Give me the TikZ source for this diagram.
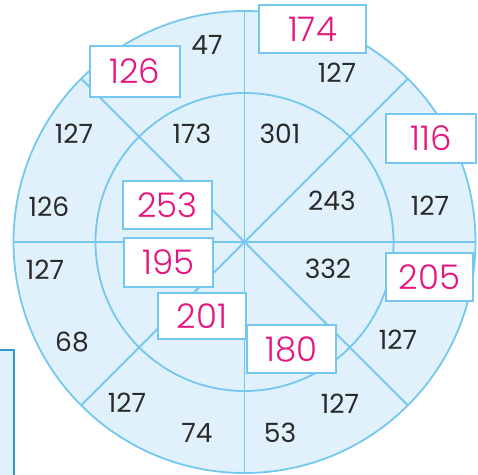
\documentclass[tikz,border=0pt]{standalone}
\usepackage{fontspec}
\setmainfont{Poppins}
\newfontfamily\pinkfont{Poppins Light}
\usetikzlibrary{calc}
\definecolor{fillblue}{HTML}{E1F1FB}
\definecolor{lineblue}{HTML}{74C7EE}
\definecolor{darkblue}{HTML}{2E9BCB}
\definecolor{pinktxt}{HTML}{E5177E}
\definecolor{darktxt}{HTML}{2A2A2A}
\tikzset{
  ring/.style={draw=lineblue, line width=1.8pt},
  ansbox/.style={draw=lineblue, line width=2pt, fill=white, inner sep=0pt, text=pinktxt, font=\pinkfont\fontsize{34}{34}\selectfont},
  numtxt/.style={text=darktxt, font=\fontsize{26.5}{26.5}\selectfont, inner sep=0pt}
}
\begin{document}
\begin{tikzpicture}[x=1pt,y=-1pt]
\path[use as bounding box, clip] (0,0) rectangle (478,474);
\coordinate (c) at (244.5,242);
% partial box lower left
\draw[fill=fillblue, draw=darkblue, line width=2pt] (-10,349.5) rectangle (13.5,490);
% circles
\draw[ring, fill=fillblue] (c) circle (231);
\draw[ring] (c) circle (149);
% dividing lines
\draw[ring] ($(c)+(0,-231)$) -- ($(c)+(0,231)$);
\draw[ring] ($(c)+(-231,0)$) -- ($(c)+(231,0)$);
\draw[ring] ($(c)+(135:231)$) -- ($(c)+(-45:231)$);
\draw[ring] ($(c)+(45:231)$) -- ($(c)+(-135:231)$);
% answer boxes
\node[ansbox, minimum width=90pt, minimum height=51pt] (b126) at (135,71.5) {126};
\node[ansbox, minimum width=107pt, minimum height=48pt] (b174) at (312.5,29) {174};
\node[ansbox, minimum width=90pt, minimum height=49pt] (b116) at (431,138.5) {116};
\node[ansbox, minimum width=89pt, minimum height=48pt] (b253) at (167.5,205) {253};
\node[ansbox, minimum width=89pt, minimum height=49pt] (b195) at (168.5,262.5) {195};
\node[ansbox, minimum width=88pt, minimum height=46pt] (b201) at (202,316) {201};
\node[ansbox, minimum width=89pt, minimum height=48pt] (b180) at (291.5,349) {180};
\node[ansbox, minimum width=87pt, minimum height=48pt] (b205) at (429.5,277) {205};
% numbers
\node[numtxt] (n47) at (207,45) {47};
\node[numtxt] (n127a) at (337,73) {127};
\node[numtxt] (n127b) at (74,134) {127};
\node[numtxt] (n173) at (192,134) {173};
\node[numtxt] (n301) at (280,134) {301};
\node[numtxt] (n126) at (49,207) {126};
\node[numtxt] (n243) at (332,201) {243};
\node[numtxt] (n127c) at (430,206) {127};
\node[numtxt] (n127d) at (45,270) {127};
\node[numtxt] (n332) at (328,269) {332};
\node[numtxt] (n68) at (72,342) {68};
\node[numtxt] (n127e) at (398,340) {127};
\node[numtxt] (n127f) at (127,403) {127};
\node[numtxt] (n74) at (197,433) {74};
\node[numtxt] (n127g) at (340,404) {127};
\node[numtxt] (n53) at (280,433) {53};
\end{tikzpicture}
\end{document}
